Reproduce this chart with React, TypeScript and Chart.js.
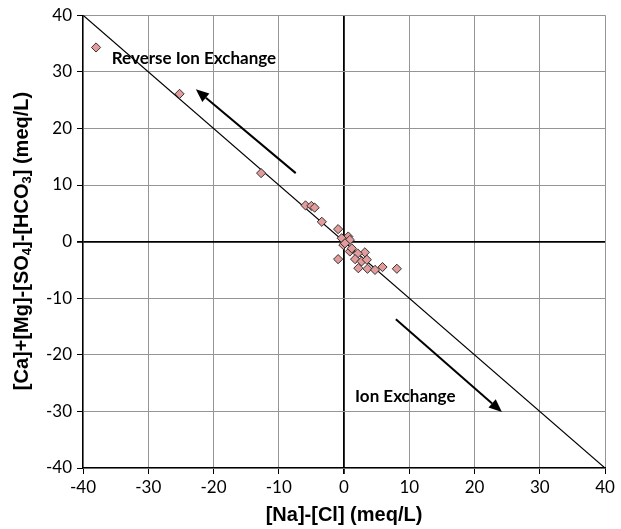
import React, { useEffect, useRef } from "react";
import { Chart, registerables } from "chart.js";

Chart.register(...registerables);

const naMinusCl = [-38.0, -25.2, -12.7, -5.9, -5.0, -4.5, -3.4, -0.9, 0.65, -0.35, 0.9, -0.1, 0.15, 0.9, 1.2, 3.2, 2.1, -0.9, 1.7, 2.7, 3.5, 2.2, 3.6, 4.75, 5.9, 8.1];
const caMgMinus = [34.3, 26.1, 12.1, 6.4, 6.3, 6.0, 3.5, 2.2, 0.9, 0.6, 0.3, -0.6, -0.3, -1.75, -1.2, -1.9, -2.1, -3.1, -3.1, -3.5, -3.2, -4.7, -4.8, -5.0, -4.5, -4.8];
const refLineX = [-40, 40];
const refLineY = [40, -40];
const tickValues = [-40, -30, -20, -10, 0, 10, 20, 30, 40];
const reverseArrow = { from: [-7.4, 12.1], to: [-22.7, 26.9], label: "Reverse Ion Exchange", labelAt: [-35.6, 31.3] };
const ionArrow = { from: [7.95, -13.7], to: [24.2, -30.1], label: "Ion Exchange", labelAt: [1.7, -28.4] };
const xTitle = "[Na]-[Cl] (meq/L)";

const annotPlugin = {
  id: "annot",
  afterDatasetsDraw(chart: any) {
    const { ctx, scales } = chart;
    const xs = scales.x, ys = scales.y;
    const arrow = (a: any) => {
      const x1 = xs.getPixelForValue(a.from[0]), y1 = ys.getPixelForValue(a.from[1]);
      const x2 = xs.getPixelForValue(a.to[0]), y2 = ys.getPixelForValue(a.to[1]);
      const ang = Math.atan2(y2 - y1, x2 - x1);
      const head = 13, hw = 5.5;
      const bx = x2 - head * Math.cos(ang), by = y2 - head * Math.sin(ang);
      ctx.save();
      ctx.strokeStyle = "#000";
      ctx.fillStyle = "#000";
      ctx.lineWidth = 2;
      ctx.beginPath();
      ctx.moveTo(x1, y1);
      ctx.lineTo(bx, by);
      ctx.stroke();
      ctx.beginPath();
      ctx.moveTo(x2, y2);
      ctx.lineTo(bx + hw * Math.sin(ang), by - hw * Math.cos(ang));
      ctx.lineTo(bx - hw * Math.sin(ang), by + hw * Math.cos(ang));
      ctx.closePath();
      ctx.fill();
      ctx.font = "bold 17px Lato, 'Open Sans', sans-serif";
      ctx.textAlign = "left";
      ctx.textBaseline = "alphabetic";
      ctx.fillText(a.label, xs.getPixelForValue(a.labelAt[0]), ys.getPixelForValue(a.labelAt[1]));
      ctx.restore();
    };
    arrow(reverseArrow);
    arrow(ionArrow);
  },
  afterDraw(chart: any) {
    const { ctx, chartArea } = chart;
    ctx.save();
    ctx.fillStyle = "#000";
    // x title
    ctx.font = "bold 20px 'Liberation Sans', Arial, sans-serif";
    ctx.textAlign = "center";
    ctx.textBaseline = "middle";
    ctx.fillText(xTitle, (chartArea.left + chartArea.right) / 2, 515);
    // y title with subscripts
    const parts: [string, boolean][] = [
      ["[Ca]+[Mg]-[SO", false], ["4", true], ["]-[HCO", false], ["3", true], ["] (meq/L)", false],
    ];
    const big = "bold 20px 'Liberation Sans', Arial, sans-serif";
    const small = "bold 13px 'Liberation Sans', Arial, sans-serif";
    let total = 0;
    for (const [t, s] of parts) { ctx.font = s ? small : big; total += ctx.measureText(t).width; }
    ctx.translate(22.5, 241);
    ctx.rotate(-Math.PI / 2);
    ctx.textAlign = "left";
    ctx.textBaseline = "middle";
    let x = -total / 2;
    for (const [t, s] of parts) {
      ctx.font = s ? small : big;
      ctx.fillText(t, x, s ? 5 : 0);
      x += ctx.measureText(t).width;
    }
    ctx.restore();
  },
};

export default function App() {
  const ref = useRef<HTMLCanvasElement>(null);
  useEffect(() => {
    document.body.style.margin = "0";
    const points = naMinusCl.map((x, i) => ({ x, y: caMgMinus[i] }));
    const line = refLineX.map((x, i) => ({ x, y: refLineY[i] }));
    const gridColor = (c: any) => (c.tick && c.tick.value === 0 ? "#000" : "#959595");
    const gridWidth = (c: any) => (c.tick && c.tick.value === 0 ? 1.8 : 1);
    const tickFont = { family: "Lato, 'Open Sans', sans-serif", size: 17 };
    const chart = new Chart(ref.current!, {
      type: "scatter",
      data: {
        datasets: [
          {
            type: "line",
            data: line,
            borderColor: "#000",
            borderWidth: 1.2,
            pointRadius: 0,
            fill: false,
            order: 2,
          } as any,
          {
            data: points,
            pointStyle: "rectRot",
            pointRadius: 4.6,
            pointBackgroundColor: "#E39C9C",
            pointBorderColor: "#222",
            pointBorderWidth: 0.9,
            order: 1,
          },
        ],
      },
      options: {
        animation: false,
        responsive: false,
        maintainAspectRatio: false,
        layout: { padding: { top: 13, right: 16, left: 0, bottom: 0 } },
        plugins: { legend: { display: false }, tooltip: { enabled: false } },
        scales: {
          x: {
            type: "linear",
            min: -40,
            max: 40,
            afterBuildTicks: (s: any) => { s.ticks = tickValues.map((v) => ({ value: v })); },
            afterFit: (s: any) => { s.height = 61; },
            grid: { color: gridColor, lineWidth: gridWidth, tickLength: 6, tickColor: "#000" },
            border: { display: true, color: "#000", width: 1.3 },
            ticks: { color: "#000", font: tickFont, padding: 3, maxRotation: 0 },
          },
          y: {
            type: "linear",
            min: -40,
            max: 40,
            afterBuildTicks: (s: any) => { s.ticks = tickValues.map((v) => ({ value: v })); },
            afterFit: (s: any) => { s.width = 83; },
            grid: { color: gridColor, lineWidth: gridWidth, tickLength: 6, tickColor: "#000" },
            border: { display: true, color: "#000", width: 1.3 },
            ticks: { color: "#000", font: tickFont, padding: 5 },
          },
        },
      },
      plugins: [annotPlugin],
    });
    return () => chart.destroy();
  }, []);
  return (
    <div style={{ position: "absolute", left: 0, top: 0, width: 621, height: 529, background: "#fff" }}>
      <canvas ref={ref} width={621} height={529} style={{ width: 621, height: 529 }} />
    </div>
  );
}
